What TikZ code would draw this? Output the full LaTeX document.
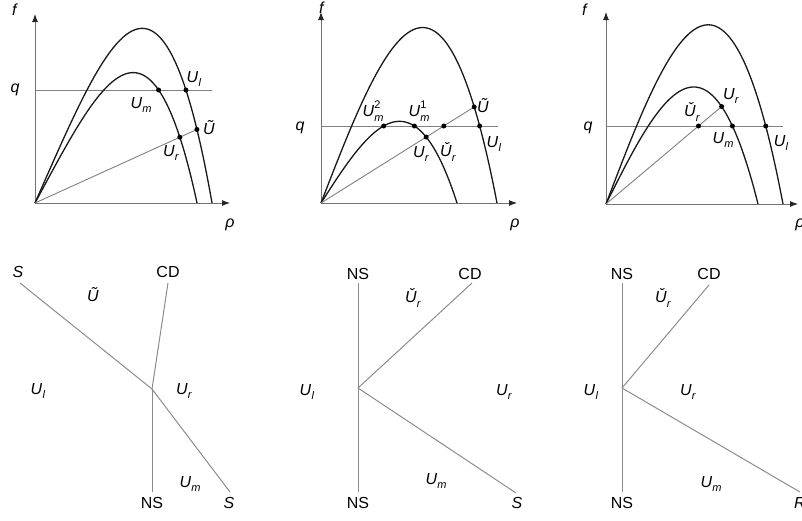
\documentclass[tikz,border=0pt]{standalone}
\usepackage{fontspec}
\setmainfont{Liberation Sans}
\usetikzlibrary{intersections,arrows.meta}
\newcommand\Usb[1]{\textit{U}\kern0.2pt\raisebox{-0.55ex}{\fontsize{11}{11}\selectfont\textit{#1}}}
\newcommand\Utsb[1]{\textit{Ǔ}\kern0.2pt\raisebox{-0.55ex}{\fontsize{11}{11}\selectfont\textit{#1}}}
\newcommand\Usbp[2]{\textit{U}\kern0.2pt\rlap{\raisebox{0.95ex}{\fontsize{11}{11}\selectfont #2}}\raisebox{-0.55ex}{\fontsize{11}{11}\selectfont\textit{#1}}}
\begin{document}
\begin{tikzpicture}[x=1pt,y=-1pt,
  lbl/.style={font=\fontsize{16}{16}\selectfont, inner sep=0pt},
  axisline/.style={draw=black!55, line width=0.9pt, -{Latex[length=8pt,width=6pt,color=black!85]}},
  gline/.style={draw=black!50, line width=0.9pt},
  bline/.style={draw=black!45, line width=1pt},
  curve/.style={draw=black!90, line width=1.3pt},
  dot/.style={circle, fill=black, inner sep=0pt, minimum size=5pt}]
\useasboundingbox (0,0) rectangle (802,520);

% ---------- Panel 1 ----------
\coordinate (O1) at (35,203);
\coordinate (Y1) at (35,14);
\coordinate (X1) at (230,203);
\draw[axisline] (O1) -- (Y1);
\draw[axisline] (O1) -- (X1);
\coordinate (Q1a) at (35,90);
\coordinate (Q1b) at (212,90);
\draw[gline, name path=q1] (Q1a) -- (Q1b);
\draw[curve, name path=o1] (O1) -- plot[domain=0.5:177, samples=120] ({35+\x},{203-2.28*\x*(1-(\x/177)^2.5)});
\draw[curve, name path=i1] (O1) -- plot[domain=0.5:162, samples=120] ({35+\x},{203-1.86*\x*(1-(\x/162)^2.5)});
\path[name path=h1] (75,184.8) -- (255,103.1);
\path[name intersections={of=h1 and o1, name=pa}];
\path[name intersections={of=h1 and i1, name=pb}];
\path[name intersections={of=q1 and i1, name=pc, sort by=q1}];
\path[name intersections={of=q1 and o1, name=pd, sort by=q1}];
\coordinate (T1) at (pa-1);
\draw[gline] (O1) -- (T1);
\node[dot] (Ut1) at (T1) {};
\node[dot] (Ur1) at (pb-1) {};
\node[dot] (Um1) at (pc-2) {};
\node[dot] (Ul1) at (pd-2) {};
\node[lbl] (f1) at (15,10) {\textit{f}};
\node[lbl] (q1l) at (15,90) {\textit{q}};
\node[lbl] (r1) at (230,225) {\textit{ρ}};
\node[lbl] (Ul1l) at (194,79) {\Usb{l}};
\node[lbl] (Um1l) at (141,105) {\Usb{m}};
\node[lbl] (Ut1l) at (209,128) {\textit{Ũ}};
\node[lbl] (Ur1l) at (171,153) {\Usb{r}};

% ---------- Panel 2 ----------
\coordinate (O2) at (321,203);
\coordinate (Y2) at (321,12);
\coordinate (X2) at (517,203);
\draw[axisline] (O2) -- (Y2);
\draw[axisline] (O2) -- (X2);
\coordinate (Q2a) at (321,126);
\coordinate (Q2b) at (498,126);
\draw[gline, name path=q2] (Q2a) -- (Q2b);
\draw[curve, name path=o2] (O2) -- plot[domain=0.5:176, samples=120] ({321+\x},{203-2.59*\x*(1-(\x/176)^2)});
\draw[curve, name path=i2] (O2) -- plot[domain=0.5:136, samples=120] ({321+\x},{203-1.56*\x*(1-(\x/136)^2)});
\path[name path=h2] (361,177.9) -- (521,77.6);
\path[name intersections={of=h2 and o2, name=qa}];
\path[name intersections={of=h2 and i2, name=qb}];
\path[name intersections={of=h2 and q2, name=qe}];
\path[name intersections={of=q2 and i2, name=qc, sort by=q2}];
\path[name intersections={of=q2 and o2, name=qd, sort by=q2}];
\coordinate (T2) at (qa-1);
\draw[gline] (O2) -- (T2);
\node[dot] (Ut2) at (T2) {};
\node[dot] (Ur2) at (qb-1) {};
\node[dot] (Uc2) at (qe-1) {};
\node[dot] (Um22) at (qc-1) {};
\node[dot] (Um21) at (qc-2) {};
\node[dot] (Ul2) at (qd-2) {};
\node[lbl] (f2) at (322,8) {\textit{f}};
\node[lbl] (q2l) at (300,128) {\textit{q}};
\node[lbl] (r2) at (515,225) {\textit{ρ}};
\node[lbl] (Um22l) at (373,111) {\Usbp{m}{2}};
\node[lbl] (Um21l) at (419,111) {\Usbp{m}{1}};
\node[lbl] (Ut2l) at (483,106) {\textit{Ũ}};
\node[lbl] (Uc2l) at (448,152) {\Utsb{r}};
\node[lbl] (Ur2l) at (421,154) {\Usb{r}};
\node[lbl] (Ul2l) at (494,144) {\Usb{l}};

% ---------- Panel 3 ----------
\coordinate (O3) at (606,204);
\coordinate (Y3) at (606,12);
\coordinate (X3) at (798,204);
\draw[axisline] (O3) -- (Y3);
\draw[axisline] (O3) -- (X3);
\coordinate (Q3a) at (606,126);
\coordinate (Q3b) at (783,126);
\draw[gline, name path=q3] (Q3a) -- (Q3b);
\draw[curve, name path=o3] (O3) -- plot[domain=0.5:177, samples=120] ({606+\x},{204-2.63*\x*(1-(\x/177)^2)});
\draw[curve, name path=i3] (O3) -- plot[domain=0.5:152, samples=120] ({606+\x},{204-2.0*\x*(1-(\x/152)^2)});
\path[name path=h3] (636,178.7) -- (766,69.1);
\path[name intersections={of=h3 and i3, name=ra}];
\path[name intersections={of=h3 and q3, name=rb}];
\path[name intersections={of=q3 and i3, name=rc, sort by=q3}];
\path[name intersections={of=q3 and o3, name=rd, sort by=q3}];
\coordinate (T3) at (ra-1);
\draw[gline] (O3) -- (T3);
\node[dot] (Ur3) at (T3) {};
\node[dot] (Uc3) at (rb-1) {};
\node[dot] (Um3) at (rc-2) {};
\node[dot] (Ul3) at (rd-2) {};
\node[lbl] (f3) at (585,10) {\textit{f}};
\node[lbl] (q3l) at (588,128) {\textit{q}};
\node[lbl] (r3) at (800,225) {\textit{ρ}};
\node[lbl] (Ur3l) at (731,96) {\Usb{r}};
\node[lbl] (Uc3l) at (692,112) {\Utsb{r}};
\node[lbl] (Um3l) at (723,140) {\Usb{m}};
\node[lbl] (Ul3l) at (781,143) {\Usb{l}};

% ---------- Panel 4 ----------
\coordinate (J4) at (152,389);
\coordinate (S4a) at (20,283);
\coordinate (S4b) at (230,492);
\coordinate (C4) at (168,283);
\coordinate (N4) at (152,492);
\draw[bline] (S4a) -- (J4) -- (S4b);
\draw[bline] (J4) -- (C4);
\draw[bline] (J4) -- (N4);
\node[lbl] (S4al) at (18,272) {\textit{S}};
\node[lbl] (C4l) at (168,272) {CD};
\node[lbl] (N4l) at (152,503) {NS};
\node[lbl] (S4bl) at (229,503) {\textit{S}};
\node[lbl] (Ut4) at (93,295) {\textit{Ũ}};
\node[lbl] (Ul4) at (38,391) {\Usb{l}};
\node[lbl] (Ur4) at (184,391) {\Usb{r}};
\node[lbl] (Um4) at (190,484) {\Usb{m}};

% ---------- Panel 5 ----------
\coordinate (J5) at (358,388);
\coordinate (N5a) at (358,283);
\coordinate (N5b) at (358,492);
\coordinate (C5) at (472,283);
\coordinate (S5) at (516,493);
\draw[bline] (N5a) -- (N5b);
\draw[bline] (J5) -- (C5);
\draw[bline] (J5) -- (S5);
\node[lbl] (N5al) at (358,274) {NS};
\node[lbl] (N5bl) at (358,503) {NS};
\node[lbl] (C5l) at (470,274) {CD};
\node[lbl] (S5l) at (517,503) {\textit{S}};
\node[lbl] (Uc5) at (413,298) {\Utsb{r}};
\node[lbl] (Ul5) at (307,392) {\Usb{l}};
\node[lbl] (Ur5) at (504,392) {\Usb{r}};
\node[lbl] (Um5) at (436,481) {\Usb{m}};

% ---------- Panel 6 ----------
\coordinate (J6) at (622,388);
\coordinate (N6a) at (622,283);
\coordinate (N6b) at (622,492);
\coordinate (C6) at (709,285);
\coordinate (R6) at (800,492);
\draw[bline] (N6a) -- (N6b);
\draw[bline] (J6) -- (C6);
\draw[bline] (J6) -- (R6);
\node[lbl] (N6al) at (622,274) {NS};
\node[lbl] (N6bl) at (622,503) {NS};
\node[lbl] (C6l) at (709,274) {CD};
\node[lbl] (R6l) at (800,503) {\textit{R}};
\node[lbl] (Uc6) at (663,298) {\Utsb{r}};
\node[lbl] (Ul6) at (591,392) {\Usb{l}};
\node[lbl] (Ur6) at (688,392) {\Usb{r}};
\node[lbl] (Um6) at (711,484) {\Usb{m}};
\end{tikzpicture}
\end{document}
